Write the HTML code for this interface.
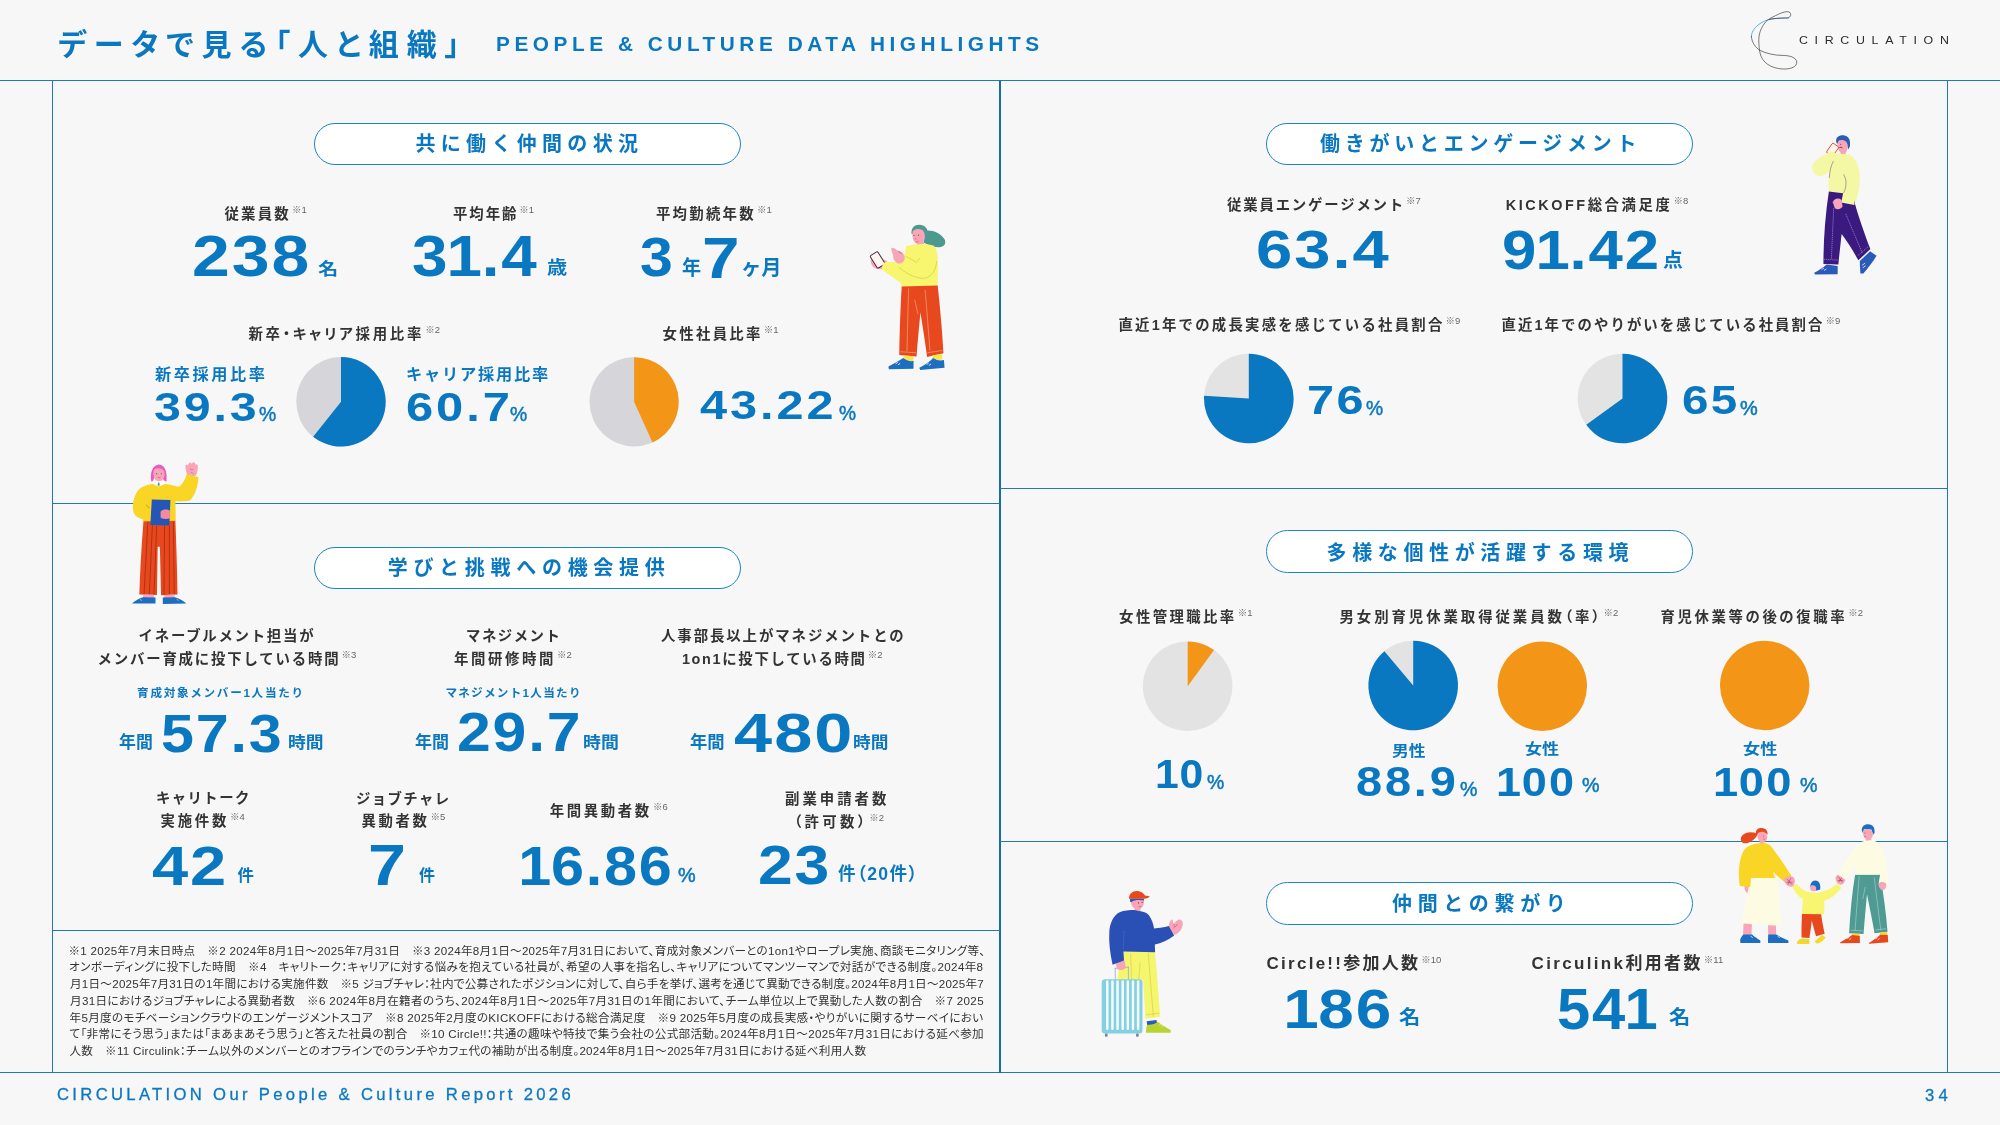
<!DOCTYPE html>
<html lang="ja">
<head>
<meta charset="utf-8">
<title>データで見る「人と組織」 PEOPLE &amp; CULTURE DATA HIGHLIGHTS</title>
<style>
html,body{margin:0;padding:0;}
body{width:2000px;height:1125px;position:relative;overflow:hidden;background:#f7f7f7;font-family:"Liberation Sans","Noto Sans CJK JP",sans-serif;color:#333;}
.t{position:absolute;white-space:nowrap;line-height:1;margin:0;padding:0;transform-origin:0 0;}
.b{color:#0a78c1;}
.hl{position:absolute;height:1.1px;background:#1f79b3;}
.vl{position:absolute;width:1.25px;background:#1f79b3;}
.pill{position:absolute;box-sizing:border-box;width:427px;height:42.8px;border:1.6px solid #1a86c4;border-radius:21.4px;background:#fff;}
.pt{font-weight:700;color:#0a78c1;}
.lab{font-weight:700;color:#333;}
.sub{font-weight:700;color:#0a78c1;}
sup{font-size:9.5px;font-weight:500;color:#666;letter-spacing:0;vertical-align:baseline;position:relative;top:-6px;margin-left:1px;}
.num{font-weight:700;color:#0a78c1;}
.num i{font-style:normal;margin:0 -0.035em 0 -0.045em;}
.u{font-weight:700;color:#0a78c1;}
.pc{font-weight:400;color:#0a78c1;-webkit-text-stroke:0.5px #0a78c1;}
.ft{font-weight:400;color:#0a78c1;-webkit-text-stroke:0.3px #0a78c1;}
#tx{position:absolute;left:0;top:0;width:2000px;height:1125px;will-change:transform;}
.fn{font-weight:400;color:#333;}
svg{position:absolute;left:0;top:0;overflow:visible;}
.logo{font-weight:400;color:#2b2b2b;}
</style>
</head>
<body>
<!-- frame lines and section pills -->
<div class="hl" style="left:0;top:80px;width:2000px;"></div>
<div class="hl" style="left:0;top:1072px;width:2000px;"></div>
<div class="vl" style="left:51.9px;top:80px;height:993px;"></div>
<div class="vl" style="left:999px;top:80px;height:993px;width:2px;background:#166da6;"></div>
<div class="vl" style="left:1947px;top:80px;height:993px;"></div>
<div class="hl" style="left:52px;top:503px;width:948px;"></div>
<div class="hl" style="left:52px;top:930px;width:948px;"></div>
<div class="hl" style="left:1000px;top:488px;width:948px;"></div>
<div class="hl" style="left:1000px;top:841px;width:948px;"></div>
<div class="pill" style="left:314px;top:122.6px;"></div>
<div class="pill" style="left:1266px;top:122.6px;"></div>
<div class="pill" style="left:314px;top:546.6px;"></div>
<div class="pill" style="left:1266px;top:530.4px;"></div>
<div class="pill" style="left:1266px;top:882.4px;"></div>

<!-- pie charts -->
<svg width="2000" height="1125" viewBox="0 0 2000 1125"><circle cx="341" cy="401.8" r="44.7" fill="#d5d5da"/><path d="M341.00 401.80L341.00 357.10A44.7 44.7 0 1 1 313.16 436.77Z" fill="#0a78c1"/><circle cx="634.1" cy="401.8" r="44.6" fill="#d5d5da"/><path d="M634.10 401.80L634.10 357.20A44.6 44.6 0 0 1 652.53 442.41Z" fill="#f39617"/><circle cx="1248.8" cy="398.5" r="44.8" fill="#e3e3e3"/><path d="M1248.80 398.50L1248.80 353.70A44.8 44.8 0 1 1 1204.09 395.69Z" fill="#0a78c1"/><circle cx="1622.5" cy="398.5" r="44.8" fill="#e3e3e3"/><path d="M1622.50 398.50L1622.50 353.70A44.8 44.8 0 1 1 1586.26 424.83Z" fill="#0a78c1"/><circle cx="1187.7" cy="686.2" r="44.8" fill="#e3e3e3"/><path d="M1187.70 686.20L1187.70 641.40A44.8 44.8 0 0 1 1214.03 649.96Z" fill="#f39617"/><circle cx="1413.2" cy="685.5" r="44.8" fill="#e3e3e3"/><path d="M1413.20 685.50L1413.20 640.70A44.8 44.8 0 1 1 1384.43 651.16Z" fill="#0a78c1"/><circle cx="1542.3" cy="686.2" r="44.7" fill="#f39617"/><circle cx="1764.7" cy="685.5" r="44.7" fill="#f39617"/></svg>
<!-- text -->
<div id="tx">
<div class="t pt" style="left:58.0px;top:30.1px;font-size:30px;letter-spacing:7.91px;font-feature-settings:'palt';">データで見る「人と組織」</div>
<div class="t pt" style="left:495.5px;top:34.4px;font-size:20px;letter-spacing:4.36px;transform:scaleX(1.04);">PEOPLE &amp; CULTURE DATA HIGHLIGHTS</div>
<div class="t ft" style="left:56.5px;top:1086.5px;font-size:16px;letter-spacing:3.2px;transform:scaleX(1.04);">CIRCULATION Our People &amp; Culture Report 2026</div>
<div class="t ft" style="left:1924.5px;top:1087.7px;font-size:16px;letter-spacing:4.13px;transform:scaleX(1.04);">34</div>
<div class="t logo" style="left:1798.9px;top:34.4px;font-size:11.7px;letter-spacing:6.3px;transform:scaleX(1.06);">CIRCULATION</div>
<div class="t pt" style="left:415.5px;top:133.9px;font-size:20px;letter-spacing:5.31px;">共に働く仲間の状況</div>
<div class="t pt" style="left:1320.0px;top:134.2px;font-size:20px;letter-spacing:4.75px;">働きがいとエンゲージメント</div>
<div class="t pt" style="left:387.7px;top:558.1px;font-size:20px;letter-spacing:5.71px;">学びと挑戦への機会提供</div>
<div class="t pt" style="left:1326.5px;top:542.5px;font-size:20px;letter-spacing:5.64px;">多様な個性が活躍する環境</div>
<div class="t pt" style="left:1392.0px;top:894.4px;font-size:20px;letter-spacing:5.67px;">仲間との繋がり</div>
<div class="t lab" style="left:224.4px;top:206.7px;font-size:14.4px;letter-spacing:2.25px;">従業員数<sup>※1</sup></div>
<div class="t lab" style="left:453.1px;top:206.7px;font-size:14.4px;letter-spacing:1.88px;">平均年齢<sup>※1</sup></div>
<div class="t lab" style="left:655.9px;top:206.7px;font-size:14.4px;letter-spacing:2.28px;">平均勤続年数<sup>※1</sup></div>
<div class="t num" style="left:191.6px;top:229.1px;font-size:56.5px;letter-spacing:1.69px;transform:scaleX(1.202);">238</div>
<div class="t u" style="left:318.0px;top:261.5px;font-size:16.9px;transform:scaleX(1.200);">名</div>
<div class="t num" style="left:411.9px;top:229.1px;font-size:56.5px;letter-spacing:1.69px;transform:scaleX(1.129);">3<i>1</i>.4</div>
<div class="t u" style="left:547.0px;top:259.6px;font-size:17.7px;transform:scaleX(1.141);">歳</div>
<div class="t num" style="left:639.6px;top:229.3px;font-size:56.4px;letter-spacing:1.69px;transform:scaleX(1.046);">3</div>
<div class="t u" style="left:681.5px;top:258.3px;font-size:20.2px;transform:scaleX(0.947);">年</div>
<div class="t num" style="left:702.1px;top:229.2px;font-size:58.0px;letter-spacing:1.74px;transform:scaleX(1.164);">7</div>
<div class="t u" style="left:741.0px;top:258.4px;font-size:20.8px;transform:scaleX(0.975);">ヶ月</div>
<div class="t lab" style="left:248.4px;top:327.0px;font-size:14.4px;letter-spacing:2.83px;font-feature-settings:'palt';">新卒・キャリア採用比率<sup>※2</sup></div>
<div class="t lab" style="left:662.5px;top:326.8px;font-size:14.4px;letter-spacing:2.32px;">女性社員比率<sup>※1</sup></div>
<div class="t sub" style="left:155.1px;top:365.8px;font-size:16.2px;letter-spacing:2.56px;">新卒採用比率</div>
<div class="t num" style="left:154.4px;top:386.5px;font-size:40.6px;letter-spacing:2.44px;transform:scaleX(1.190);">39.3</div>
<div class="t pc" style="left:259.1px;top:403.5px;font-size:20.7px;transform:scaleX(0.937);">%</div>
<div class="t sub" style="left:406.1px;top:365.5px;font-size:16.2px;letter-spacing:1.79px;">キャリア採用比率</div>
<div class="t num" style="left:405.8px;top:386.5px;font-size:40.8px;letter-spacing:2.45px;transform:scaleX(1.198);">60.7</div>
<div class="t pc" style="left:510.1px;top:403.5px;font-size:20.7px;transform:scaleX(0.937);">%</div>
<div class="t num" style="left:700.4px;top:384.5px;font-size:40.6px;letter-spacing:2.44px;transform:scaleX(1.200);">43.22</div>
<div class="t pc" style="left:838.9px;top:402.5px;font-size:20.2px;transform:scaleX(0.949);">%</div>
<div class="t lab" style="left:138.6px;top:628.7px;font-size:14.4px;letter-spacing:1.75px;">イネーブルメント担当が</div>
<div class="t lab" style="left:97.5px;top:651.6px;font-size:14.4px;letter-spacing:1.83px;">メンバー育成に投下している時間<sup>※3</sup></div>
<div class="t lab" style="left:466.0px;top:628.7px;font-size:14.4px;letter-spacing:1.5px;">マネジメント</div>
<div class="t lab" style="left:453.9px;top:651.6px;font-size:14.4px;letter-spacing:2.62px;">年間研修時間<sup>※2</sup></div>
<div class="t lab" style="left:661.0px;top:628.7px;font-size:14.4px;letter-spacing:1.93px;">人事部長以上がマネジメントとの</div>
<div class="t lab" style="left:681.9px;top:651.6px;font-size:14.4px;letter-spacing:1.7px;">1on1に投下している時間<sup>※2</sup></div>
<div class="t sub" style="left:137.1px;top:687.0px;font-size:11.6px;letter-spacing:1.7px;">育成対象メンバー1人当たり</div>
<div class="t sub" style="left:445.4px;top:687.3px;font-size:11.6px;letter-spacing:1.27px;">マネジメント1人当たり</div>
<div class="t u" style="left:119.1px;top:734.5px;font-size:16.7px;transform:scaleX(1.013);">年間</div>
<div class="t num" style="left:161.4px;top:707.0px;font-size:53.9px;letter-spacing:1.62px;transform:scaleX(1.099);">57.3</div>
<div class="t u" style="left:287.5px;top:734.0px;font-size:16.3px;transform:scaleX(1.095);">時間</div>
<div class="t u" style="left:415.1px;top:734.5px;font-size:16.7px;transform:scaleX(1.019);">年間</div>
<div class="t num" style="left:457.4px;top:705.3px;font-size:55.1px;letter-spacing:1.65px;transform:scaleX(1.102);">29.7</div>
<div class="t u" style="left:582.9px;top:734.0px;font-size:16.3px;transform:scaleX(1.102);">時間</div>
<div class="t u" style="left:689.7px;top:734.5px;font-size:16.7px;transform:scaleX(1.037);">年間</div>
<div class="t num" style="left:734.0px;top:705.3px;font-size:56.1px;letter-spacing:1.68px;transform:scaleX(1.221);">480</div>
<div class="t u" style="left:853.3px;top:734.0px;font-size:16.3px;transform:scaleX(1.089);">時間</div>
<div class="t lab" style="left:156.0px;top:791.2px;font-size:14.4px;letter-spacing:1.4px;">キャリトーク</div>
<div class="t lab" style="left:160.5px;top:814.0px;font-size:14.4px;letter-spacing:2.75px;">実施件数<sup>※4</sup></div>
<div class="t lab" style="left:356.0px;top:791.5px;font-size:14.4px;letter-spacing:1.4px;">ジョブチャレ</div>
<div class="t lab" style="left:361.5px;top:814.0px;font-size:14.4px;letter-spacing:2.62px;">異動者数<sup>※5</sup></div>
<div class="t lab" style="left:549.8px;top:804.2px;font-size:14.4px;letter-spacing:2.62px;">年間異動者数<sup>※6</sup></div>
<div class="t lab" style="left:785.0px;top:791.6px;font-size:14.4px;letter-spacing:3.0px;">副業申請者数</div>
<div class="t lab" style="left:794.1px;top:814.6px;font-size:14.4px;letter-spacing:3.34px;font-feature-settings:'palt';">（許可数）<sup>※2</sup></div>
<div class="t num" style="left:152.4px;top:838.1px;font-size:56.0px;letter-spacing:1.68px;transform:scaleX(1.161);">42</div>
<div class="t u" style="left:237.6px;top:867.4px;font-size:16.4px;transform:scaleX(1.000);">件</div>
<div class="t num" style="left:368.0px;top:838.0px;font-size:56.5px;letter-spacing:1.69px;transform:scaleX(1.208);">7</div>
<div class="t u" style="left:419.0px;top:867.4px;font-size:16.4px;transform:scaleX(0.975);">件</div>
<div class="t num" style="left:521.1px;top:838.5px;font-size:55.6px;letter-spacing:1.67px;transform:scaleX(1.067);"><i>1</i>6.86</div>
<div class="t pc" style="left:677.5px;top:864.5px;font-size:20.2px;transform:scaleX(0.983);">%</div>
<div class="t num" style="left:757.8px;top:839.0px;font-size:54.6px;letter-spacing:1.64px;transform:scaleX(1.144);">23</div>
<div class="t u" style="left:838.1px;top:865.5px;font-size:17.9px;letter-spacing:1.43px;transform:scaleX(0.982);font-feature-settings:'palt';">件（20件）</div>
<div class="t lab" style="left:1227.0px;top:198.4px;font-size:14.4px;letter-spacing:1.82px;">従業員エンゲージメント<sup>※7</sup></div>
<div class="t lab" style="left:1505.7px;top:198.4px;font-size:14.4px;letter-spacing:2.57px;">KICKOFF総合満足度<sup>※8</sup></div>
<div class="t num" style="left:1256.4px;top:222.5px;font-size:54.4px;letter-spacing:1.63px;transform:scaleX(1.198);">63.4</div>
<div class="t num" style="left:1501.6px;top:222.5px;font-size:55.5px;letter-spacing:1.67px;transform:scaleX(1.112);">9<i>1</i>.42</div>
<div class="t u" style="left:1662.5px;top:251.0px;font-size:19.3px;transform:scaleX(1.027);">点</div>
<div class="t lab" style="left:1118.5px;top:317.8px;font-size:14.4px;letter-spacing:2.23px;">直近1年での成長実感を感じている社員割合<sup>※9</sup></div>
<div class="t lab" style="left:1501.5px;top:317.8px;font-size:14.4px;letter-spacing:2.08px;">直近1年でのやりがいを感じている社員割合<sup>※9</sup></div>
<div class="t num" style="left:1307.2px;top:380.0px;font-size:41.3px;letter-spacing:2.06px;transform:scaleX(1.178);">76</div>
<div class="t pc" style="left:1365.5px;top:397.9px;font-size:20.3px;transform:scaleX(0.949);">%</div>
<div class="t num" style="left:1681.9px;top:380.0px;font-size:41.3px;letter-spacing:2.06px;transform:scaleX(1.152);">65</div>
<div class="t pc" style="left:1739.9px;top:397.9px;font-size:20.3px;transform:scaleX(0.983);">%</div>
<div class="t lab" style="left:1119.1px;top:609.6px;font-size:14.4px;letter-spacing:2.4px;">女性管理職比率<sup>※1</sup></div>
<div class="t lab" style="left:1339.5px;top:609.6px;font-size:14.4px;letter-spacing:2.94px;font-feature-settings:'palt';">男女別育児休業取得従業員数（率）<sup>※2</sup></div>
<div class="t lab" style="left:1660.5px;top:609.6px;font-size:14.4px;letter-spacing:2.59px;">育児休業等の後の復職率<sup>※2</sup></div>
<div class="t num" style="left:1156.5px;top:753.5px;font-size:40.8px;letter-spacing:2.04px;transform:scaleX(1.048);"><i>1</i>0</div>
<div class="t pc" style="left:1207.1px;top:771.5px;font-size:20.2px;transform:scaleX(0.960);">%</div>
<div class="t u" style="left:1392.4px;top:744.1px;font-size:14.4px;transform:scaleX(1.164);">男性</div>
<div class="t num" style="left:1355.5px;top:760.5px;font-size:42.3px;letter-spacing:2.54px;transform:scaleX(1.109);">88.9</div>
<div class="t pc" style="left:1459.5px;top:778.5px;font-size:20.6px;transform:scaleX(0.949);">%</div>
<div class="t u" style="left:1525.0px;top:742.1px;font-size:14.3px;transform:scaleX(1.193);">女性</div>
<div class="t num" style="left:1498.4px;top:761.5px;font-size:40.8px;letter-spacing:2.04px;transform:scaleX(1.104);"><i>1</i>00</div>
<div class="t pc" style="left:1581.5px;top:774.5px;font-size:20.3px;transform:scaleX(0.971);">%</div>
<div class="t u" style="left:1742.8px;top:742.1px;font-size:14.3px;transform:scaleX(1.200);">女性</div>
<div class="t num" style="left:1715.4px;top:761.5px;font-size:40.8px;letter-spacing:2.04px;transform:scaleX(1.110);"><i>1</i>00</div>
<div class="t pc" style="left:1799.5px;top:774.5px;font-size:20.3px;transform:scaleX(0.971);">%</div>
<div class="t lab" style="left:1266.5px;top:955.2px;font-size:17px;letter-spacing:2.27px;">Circle!!参加人数<sup>※10</sup></div>
<div class="t lab" style="left:1531.5px;top:955.2px;font-size:17px;letter-spacing:2.35px;">Circulink利用者数<sup>※11</sup></div>
<div class="t num" style="left:1286.4px;top:980.5px;font-size:56.3px;letter-spacing:1.69px;transform:scaleX(1.133);"><i>1</i>86</div>
<div class="t u" style="left:1399.4px;top:1007.7px;font-size:19.3px;transform:scaleX(1.106);">名</div>
<div class="t num" style="left:1557.2px;top:980.5px;font-size:57.1px;letter-spacing:1.71px;transform:scaleX(1.047);">54<i>1</i></div>
<div class="t u" style="left:1668.6px;top:1007.7px;font-size:19.3px;transform:scaleX(1.106);">名</div>
<div class="t fn" style="left:68.5px;top:944.7px;font-size:11.6px;letter-spacing:0.28px;font-feature-settings:'palt';">※1 2025年7月末日時点　※2 2024年8月1日〜2025年7月31日　※3 2024年8月1日〜2025年7月31日において、育成対象メンバーとの1on1やロープレ実施、商談モニタリング等、</div>
<div class="t fn" style="left:69.0px;top:961.4px;font-size:11.6px;letter-spacing:0.35px;font-feature-settings:'palt';">オンボーディングに投下した時間　※4　キャリトーク：キャリアに対する悩みを抱えている社員が、希望の人事を指名し、キャリアについてマンツーマンで対話ができる制度。2024年8</div>
<div class="t fn" style="left:70.0px;top:978.1px;font-size:11.6px;letter-spacing:0.24px;font-feature-settings:'palt';">月1日〜2025年7月31日の1年間における実施件数　※5 ジョブチャレ：社内で公募されたポジションに対して、自ら手を挙げ、選考を通じて異動できる制度。2024年8月1日〜2025年7</div>
<div class="t fn" style="left:70.0px;top:994.9px;font-size:11.6px;letter-spacing:0.34px;font-feature-settings:'palt';">月31日におけるジョブチャレによる異動者数　※6 2024年8月在籍者のうち、2024年8月1日〜2025年7月31日の1年間において、チーム単位以上で異動した人数の割合　※7 2025</div>
<div class="t fn" style="left:69.5px;top:1011.6px;font-size:11.6px;letter-spacing:0.32px;font-feature-settings:'palt';">年5月度のモチベーションクラウドのエンゲージメントスコア　※8 2025年2月度のKICKOFFにおける総合満足度　※9 2025年5月度の成長実感・やりがいに関するサーベイにおい</div>
<div class="t fn" style="left:69.5px;top:1028.3px;font-size:11.6px;letter-spacing:0.29px;font-feature-settings:'palt';">て「非常にそう思う」または「まあまあそう思う」と答えた社員の割合　※10 Circle!!：共通の趣味や特技で集う会社の公式部活動。2024年8月1日〜2025年7月31日における延べ参加</div>
<div class="t fn" style="left:69.5px;top:1045.0px;font-size:11.6px;letter-spacing:0.27px;font-feature-settings:'palt';">人数　※11 Circulink：チーム以外のメンバーとのオフラインでのランチやカフェ代の補助が出る制度。2024年8月1日〜2025年7月31日における延べ利用人数</div>
</div>
<!-- logo -->
<svg width="2000" height="1125" viewBox="0 0 2000 1125"><g transform="translate(1730,0) scale(0.12)" fill="none" stroke-linecap="round">
<path d="M490 150 C420 150 330 150 270 185 C215 215 180 255 178 305" stroke="#3a97d4" stroke-width="6.5"/>
<path d="M330 155 C400 120 470 80 500 105 C515 125 500 150 470 150 C420 150 350 155 315 165 C270 205 240 270 240 330 C240 380 245 420 250 440 C265 520 340 570 440 575 C510 578 560 555 556 515 C552 480 500 462 440 462 C370 462 300 445 250 420 C215 400 182 355 178 305" stroke="#2b2b2b" stroke-width="5.2"/>
</g></svg>

<!-- illustrations -->
<svg width="2000" height="1125" viewBox="0 0 2000 1125">
<!-- woman with phone -->
<g transform="translate(850,210) scale(0.16)">
<path d="M385 150 C380 110 405 90 437 92 C465 94 480 112 484 128 C522 126 568 146 590 182 C604 208 590 230 562 233 C528 234 492 220 462 204 L462 150 Z" fill="#4c9a8f"/>
<path d="M390 140 C392 122 420 114 440 120 C462 126 470 146 468 170 C466 198 450 214 430 213 C405 212 388 188 390 140 Z" fill="#f8a5b8"/>
<rect x="420" y="196" width="42" height="36" fill="#f8a5b8"/>
<circle cx="400" cy="158" r="3.5" fill="#5a2a2a"/><circle cx="428" cy="157" r="3.5" fill="#5a2a2a"/><path d="M404 180 q6 3 12 0 M412 198 q10 3 18 -3" stroke="#c8344a" stroke-width="3" fill="none"/>
<path d="M130 320 C128 300 150 290 178 298 L232 318 L222 372 L165 368 C142 358 130 342 130 320 Z" fill="#f8a5b8"/>
<g transform="rotate(-32 172 312)"><rect x="144" y="266" width="56" height="92" rx="9" fill="#fff6ee" stroke="#4a1f3a" stroke-width="6"/></g>
<path d="M352 226 C410 210 482 208 524 224 C550 250 552 300 548 474 L322 482 C322 470 321 462 320 458 L200 372 C196 355 206 332 224 324 C262 326 300 328 336 318 C340 285 345 250 352 226 Z" fill="#f7f66e"/>
<path d="M348 290 C372 300 398 316 414 328 L438 300 M306 358 C356 402 420 432 470 426 C512 418 538 372 542 318" stroke="#b9bd3a" stroke-width="3" fill="none"/>
<path d="M258 240 C264 232 278 238 300 256 C322 258 338 270 342 292 C344 318 328 336 306 334 C284 330 268 310 270 284 C266 268 256 254 258 240 Z" fill="#f8a5b8"/>
<path d="M300 256 q14 6 22 18" stroke="#7a2a3a" stroke-width="3" fill="none"/>
<path d="M323 478 L548 472 C562 600 577 760 584 896 L482 918 C470 830 455 730 440 640 C432 730 422 830 416 916 L308 906 C310 760 316 600 323 478 Z" fill="#e8481d"/>
<path d="M366 490 L356 884 M470 500 L500 880 M404 560 L425 650 M315 886 L412 892 M484 892 L578 878" stroke="#f7b79a" stroke-width="3.5" fill="none"/>
<path d="M335 910 L397 914 L395 945 L333 940 Z M515 908 L575 900 L578 935 L518 940 Z" fill="#f5e74c"/>
<path d="M240 978 C270 962 305 945 332 925 C350 940 375 948 397 944 L397 992 L243 996 Z" fill="#1b6ec2"/>
<path d="M433 986 C465 970 498 948 520 925 C540 940 565 944 587 938 L591 986 L438 1000 Z" fill="#1b6ec2"/>
<path d="M285 962 l14 -10 M300 968 l14 -10 M478 966 l14 -10 M493 972 l14 -10" stroke="#fff" stroke-width="5"/>
</g>
<!-- woman waving, pink hair -->
<g transform="translate(110,450) scale(0.1467)">
<path d="M282 215 C272 160 285 105 332 98 C378 100 392 155 384 215 C370 218 362 200 360 190 L300 190 C298 205 292 218 282 215 Z" fill="#e85ac4"/>
<path d="M296 150 C298 128 315 122 335 124 C360 126 372 140 372 165 C372 195 355 212 333 212 C310 212 294 192 296 150 Z" fill="#f8a5b8"/>
<circle cx="318" cy="162" r="3.5" fill="#5a2a2a"/><circle cx="350" cy="162" r="3.5" fill="#5a2a2a"/><path d="M324 186 q10 7 20 0" stroke="#d8344a" stroke-width="3.5" fill="none"/>
<path d="M292 212 L372 212 L375 240 L333 250 L290 240 Z" fill="#fffdf5"/>
<path d="M328 222 l8 0 l3 18 l-7 6 l-7 -6 Z" fill="#3f9a8a"/>
<path d="M515 120 C512 100 522 92 532 105 C535 85 550 78 556 95 C565 78 580 80 582 100 C595 92 602 105 598 122 C598 150 590 172 572 182 L528 170 C520 155 516 138 515 120 Z" fill="#f8a5b8"/>
<path d="M545 130 q12 8 22 2 M552 150 q10 8 16 12" stroke="#b23a52" stroke-width="3" fill="none"/>
<path d="M292 232 L333 248 L375 232 C410 235 440 245 470 250 C498 230 512 200 522 165 L604 186 C598 250 580 310 545 345 C515 352 480 350 446 350 L448 482 L225 486 L222 470 C190 465 165 445 158 415 C150 370 165 300 200 265 C225 245 260 236 292 232 Z" fill="#f9d526"/>
<path d="M248 372 q4 18 22 22" stroke="#8a6a10" stroke-width="3" fill="none"/>
<path d="M228 486 L446 482 C452 650 458 820 460 985 L348 990 L340 660 L325 660 L320 988 L200 985 C205 820 215 650 228 486 Z" fill="#e8481d"/>
<path d="M258 490 L232 985 M290 490 L268 985 M318 515 L300 985 M372 515 L368 985 M405 515 L405 985 M432 490 L438 985" stroke="#8f1f10" stroke-width="4" fill="none"/>
<path d="M285 338 L412 340 L405 515 L275 512 Z" fill="#2456b8"/>
<path d="M345 420 C360 402 395 402 410 415 L410 465 C390 472 360 472 345 462 Z" fill="#f48a9c"/>
<path d="M225 985 L300 987 L300 1010 L225 1010 Z M370 988 L440 985 L442 1010 L370 1010 Z" fill="#f8a5b8"/>
<path d="M150 1046 C170 1025 200 1010 225 1003 L310 1005 L310 1046 Z M360 1005 L442 1003 C470 1010 500 1025 520 1046 L360 1050 Z" fill="#1b6ec2"/>
<path d="M205 1018 l12 8 M455 1018 l12 8" stroke="#fff" stroke-width="4"/>
</g>
<!-- man on phone -->
<g transform="translate(1790,120) scale(0.14667)">
<path d="M315 150 C310 115 340 100 372 106 C402 112 414 140 408 180 L398 200 L380 150 L335 140 L322 165 Z" fill="#2a5bb8"/>
<path d="M324 160 C326 140 345 135 362 138 C385 142 395 160 394 185 C392 212 378 228 358 226 C338 224 322 200 324 160 Z" fill="#f8a5b8"/>
<path d="M336 188 q12 -6 22 2" stroke="#3b2a3a" stroke-width="5" fill="none"/><circle cx="346" cy="165" r="3.5" fill="#3b2a3a"/>
<rect x="345" y="215" width="35" height="30" fill="#f8a5b8"/>
<g transform="rotate(35 292 200)"><rect x="266" y="164" width="52" height="78" rx="9" fill="#fff6f2" stroke="#e8481d" stroke-width="6"/></g>
<path d="M290 215 C310 230 340 236 380 230 C430 235 465 290 474 360 C482 430 470 500 440 580 L350 562 C355 540 360 515 362 500 L265 488 C262 450 262 400 268 345 C245 385 195 395 165 365 C135 330 158 290 185 268 C220 243 255 225 290 215 Z" fill="#f4f7a4"/>
<path d="M296 280 C280 310 270 350 268 395 M365 370 C385 400 390 450 365 498" stroke="#3b3a6a" stroke-width="3" fill="none"/>
<path d="M265 488 L362 500 L350 562 L440 580 L436 545 C460 640 510 780 548 880 L466 957 C430 890 390 830 352 778 C345 850 335 920 330 986 L228 982 C228 820 240 650 265 488 Z" fill="#3b1a80"/>
<path d="M298 600 L282 950 M380 640 L492 905 M232 950 L328 955 M462 925 L535 862" stroke="#cbb8f0" stroke-width="3.5" stroke-dasharray="9 5" fill="none"/>
<path d="M292 560 C300 535 330 528 352 545 L358 590 C345 610 320 615 305 600 Z" fill="#f8a5b8"/>
<path d="M165 1042 C195 1025 228 1005 250 985 L325 996 L325 1052 L170 1054 Z" fill="#2a5bb8"/>
<path d="M480 1046 C478 1015 476 985 476 962 L546 895 L590 926 C565 970 530 1012 500 1046 Z" fill="#2a5bb8"/>
<path d="M215 1020 l16 -10 M232 1026 l16 -10 M492 990 l20 -14 M496 1008 l20 -14" stroke="#fff" stroke-width="5"/>
</g>
<!-- man with suitcase -->
<g transform="translate(1080,880) scale(0.1467)">
<path d="M345 130 C348 120 430 120 436 132 C440 170 425 200 395 202 C365 200 345 175 345 130 Z" fill="#f8a5b8"/>
<rect x="372" y="190" width="40" height="30" fill="#f8a5b8"/>
<path d="M340 128 L436 128 L436 140 C410 134 370 134 352 150 L342 150 Z" fill="#2a5bb8"/>
<path d="M334 128 C332 95 360 72 392 75 C420 78 438 95 442 105 L475 110 C470 120 455 126 436 128 Z" fill="#e8481d"/>
<circle cx="398" cy="156" r="3.5" fill="#3b2a3a"/><circle cx="424" cy="154" r="3.5" fill="#3b2a3a"/><path d="M400 180 q8 5 16 0" stroke="#d8344a" stroke-width="3.5" fill="none"/>
<path d="M296 486 L512 490 C525 640 538 800 546 932 L446 946 L430 680 L255 680 C262 610 280 540 296 486 Z" fill="#f6f56e"/>
<path d="M345 500 L352 690 M410 560 L400 680 M465 500 L500 930 M450 920 L540 908" stroke="#b9bd3a" stroke-width="3" fill="none"/>
<path d="M240 600 L240 690 M330 592 L330 690" stroke="#8fb8c8" stroke-width="6" fill="none"/>
<path d="M236 602 L334 594" stroke="#8fb8c8" stroke-width="6"/>
<path d="M245 575 C255 550 290 540 305 552 L312 600 C295 618 262 618 250 605 Z" fill="#f8a5b8"/>
<path d="M370 205 C410 215 450 215 470 240 C490 270 500 300 505 330 C540 328 580 322 612 312 L642 378 C600 410 555 430 510 440 L512 492 L296 488 L300 548 L222 578 C205 500 195 420 200 350 C205 290 230 240 270 220 C300 208 340 205 370 205 Z" fill="#2a4fb5"/>
<path d="M300 345 L296 470" stroke="#6b8ae0" stroke-width="3" stroke-dasharray="6 4" fill="none"/>
<path d="M606 316 C606 290 618 268 632 270 C634 285 634 296 640 300 C655 275 680 262 690 275 C705 285 705 310 690 335 C678 355 660 370 640 375 Z" fill="#f8a5b8"/>
<path d="M640 300 q8 14 0 30 M662 300 q-4 14 -14 20" stroke="#b23a52" stroke-width="3" fill="none"/>
<rect x="148" y="676" width="278" height="370" rx="22" fill="#84cfe0"/>
<path d="M186 692 v322 M221 692 v322 M256 692 v322 M291 692 v322 M326 692 v322 M361 692 v322 M396 692 v322" stroke="#f3fdff" stroke-width="17" stroke-linecap="round" fill="none"/>
<rect x="170" y="1046" width="18" height="22" rx="4" fill="#7b8a92"/><rect x="382" y="1046" width="18" height="22" rx="4" fill="#7b8a92"/>
<path d="M455 962 L522 955 L526 990 L458 992 Z" fill="#2a5bb8"/>
<path d="M450 1042 C450 1020 452 1000 458 986 C485 990 515 980 530 966 C560 990 595 1010 618 1022 L618 1042 Z" fill="#b9d432"/>
<path d="M540 990 l14 -10 M556 1000 l14 -10" stroke="#fff" stroke-width="4"/>
</g>
<!-- family -->
<g transform="translate(1720,815) scale(0.12)">
<!-- mother -->
<path d="M300 150 C298 120 320 106 350 108 C385 110 400 135 396 165 L380 150 L320 150 C300 200 250 240 200 236 C170 225 165 195 185 170 C215 140 260 140 300 150 Z" fill="#e8481d"/>
<path d="M312 165 C312 145 335 138 355 140 C382 144 396 165 394 190 C392 215 375 228 352 226 C328 224 312 205 312 165 Z" fill="#f8a5b8"/>
<rect x="330" y="215" width="40" height="30" fill="#f8a5b8"/>
<circle cx="362" cy="176" r="4" fill="#3b2a3a"/><path d="M360 200 q10 6 18 -2" stroke="#d8344a" stroke-width="4" fill="none"/>
<path d="M205 585 C225 580 255 585 265 600 C268 625 255 648 235 650 C215 648 200 625 205 585 Z" fill="#f8a5b8"/>
<path d="M258 522 L478 522 C495 660 505 790 512 920 L180 902 C200 770 230 640 258 522 Z" fill="#fdfbe2"/>
<path d="M196 905 L266 910 L262 1002 L192 1000 Z M400 918 L466 920 L468 1002 L402 1002 Z" fill="#f8a5b8"/>
<path d="M330 236 C370 230 400 236 425 260 C480 330 540 420 595 505 L545 565 C500 530 465 495 440 470 C450 490 455 510 456 524 L258 524 L252 600 L165 592 C150 500 155 400 185 320 C210 265 265 240 330 236 Z" fill="#f9d526"/>
<path d="M168 1040 C175 1020 185 1005 195 996 L268 996 C290 1015 315 1035 336 1046 L336 1066 L170 1066 Z M400 1040 L402 996 L470 996 C500 1015 540 1035 570 1046 L570 1066 L400 1066 Z" fill="#1b6ec2"/>
<path d="M255 1010 l18 12 M275 1000 l18 12 M480 1010 l18 12 M500 1000 l18 12" stroke="#fff" stroke-width="6"/>
<!-- child -->
<path d="M752 600 C750 570 770 545 795 546 C825 548 840 575 835 620 L800 632 Z" fill="#1b6ec2"/>
<path d="M752 592 C760 580 790 582 800 600 L802 632 C785 640 760 635 752 620 Z" fill="#f8a5b8"/>
<path d="M684 818 L842 822 C850 880 862 940 872 990 L800 1010 C785 960 775 920 765 880 C760 930 752 980 745 1025 L680 1020 C678 950 680 880 684 818 Z" fill="#e8481d"/>
<path d="M600 590 L640 575 C670 610 700 632 730 642 L800 650 C870 640 930 610 975 572 L1012 605 C975 660 920 700 870 715 L868 828 L682 824 L690 700 C650 680 620 640 600 590 Z" fill="#f8f670"/>
<path d="M640 1060 C650 1045 665 1035 682 1030 L745 1035 L745 1076 L645 1076 Z M788 1058 C800 1040 830 1020 850 1000 L880 1018 C870 1040 845 1062 812 1072 Z" fill="#f3d82e"/>
<!-- hands joined -->
<path d="M530 540 C545 510 590 500 615 520 C630 545 625 580 600 598 C575 600 545 585 530 540 Z" fill="#f8a5b8"/>
<path d="M560 535 l40 45 M590 525 l-25 55 M555 560 l50 0" stroke="#8a2a4a" stroke-width="4" fill="none"/>
<path d="M962 520 C975 490 1020 480 1045 500 C1055 530 1040 570 1010 582 C985 580 965 560 962 520 Z" fill="#f8a5b8"/>
<path d="M985 515 l35 45 M1020 510 l-30 50 M980 545 l45 0" stroke="#8a2a4a" stroke-width="4" fill="none"/>
<!-- father -->
<path d="M1182 130 C1178 100 1200 78 1235 78 C1270 80 1292 100 1288 150 L1275 165 L1262 120 L1200 118 L1190 150 Z" fill="#1b6ec2"/>
<path d="M1192 140 C1194 122 1212 114 1232 116 C1260 118 1276 138 1274 165 C1272 192 1255 208 1232 206 C1208 204 1190 180 1192 140 Z" fill="#f8a5b8"/>
<rect x="1215" y="195" width="45" height="30" fill="#f8a5b8"/>
<circle cx="1208" cy="150" r="4" fill="#3b2a3a"/><path d="M1200 178 q10 6 18 0" stroke="#d8344a" stroke-width="4" fill="none"/>
<path d="M1126 496 L1336 496 C1360 650 1385 820 1396 972 L1288 985 C1270 880 1245 760 1225 660 C1215 760 1205 880 1196 992 L1076 986 C1085 820 1100 650 1126 496 Z" fill="#4f9a93"/>
<path d="M1160 510 L1125 965 M1210 600 L1190 700 M1285 520 L1340 960 M1090 960 L1190 966 M1295 958 L1385 948" stroke="#bfe6dc" stroke-width="4" fill="none"/>
<path d="M1215 215 C1255 205 1300 212 1325 240 C1370 300 1410 450 1400 590 L1322 580 C1325 550 1330 520 1334 498 L1126 498 C1128 470 1132 440 1136 410 C1110 450 1075 500 1045 540 L985 500 C1030 420 1090 320 1140 250 C1160 228 1190 218 1215 215 Z" fill="#fdfbe2"/>
<path d="M1322 570 C1335 555 1370 555 1385 575 C1390 600 1378 622 1355 626 C1335 622 1320 600 1322 570 Z" fill="#f8a5b8"/>
<path d="M1100 988 L1162 990 L1164 1012 L1100 1010 Z M1330 982 L1392 976 L1395 1002 L1332 1006 Z" fill="#f5d52e"/>
<path d="M1000 1062 C1030 1045 1075 1020 1100 1000 L1165 1008 L1166 1066 L1002 1068 Z M1240 1066 C1270 1048 1310 1022 1335 998 L1398 1000 L1402 1060 L1242 1072 Z" fill="#e8481d"/>
<path d="M1060 1030 l16 -10 M1078 1038 l16 -10 M1296 1032 l16 -10 M1314 1040 l16 -10" stroke="#fff" stroke-width="6"/>
</g>
</svg>

</body>
</html>
